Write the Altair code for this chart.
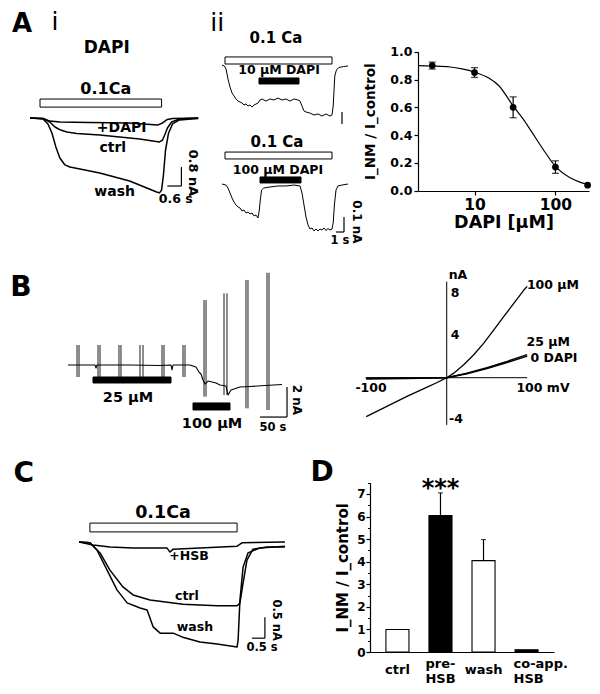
import altair as alt
import pandas as pd

FONT = "DejaVu Sans"

# ---------------- Panel A i : traces, time (s) / current (nA) ----------------
ai_dapi_t = [-0.06, 0.50, 0.79, 1.22, 2.50, 4.21, 5.41, 5.62, 5.83, 6.05, 7.15]
ai_dapi_i = [0.0, -0.02, -0.13, -0.17, -0.19, -0.21, -0.30, -0.21, -0.06, -0.02, 0.0]
ai_ctrl_t = [-0.06, 0.50, 0.79, 1.01, 1.26, 1.52, 1.95, 2.93, 3.78, 4.64, 5.49, 5.62, 5.75, 5.83, 6.01, 6.35, 7.15]
ai_ctrl_i = [0.0, -0.02, -0.17, -0.38, -0.51, -0.59, -0.65, -0.72, -0.80, -0.89, -1.01, -0.93, -0.63, -0.42, -0.17, -0.04, 0.0]
ai_wash_t = [-0.06, 0.50, 0.71, 0.88, 1.05, 1.22, 1.44, 1.65, 2.08, 2.93, 4.21, 5.37, 5.49, 5.58, 5.66, 5.75, 5.88, 6.05, 6.35, 7.15]
ai_wash_i = [0.0, -0.04, -0.25, -0.63, -1.22, -1.69, -1.98, -2.07, -2.15, -2.32, -2.66, -3.12, -3.16, -3.04, -2.41, -1.35, -0.63, -0.25, -0.08, -0.02]
ai_ca_on = [0.37, 5.58]

# ---------------- Panel A ii : two traces (s / nA, stacked) ----------------
aii_top_t = [0, 0.3, 0.5, 0.75, 1.0, 1.25, 1.5, 1.75, 2.0, 2.25, 2.5, 2.75, 3.0, 3.25, 3.5, 3.75, 4.0, 4.25,
             4.5, 4.75, 5.0, 5.5, 6.0, 6.5, 7.0, 7.5, 8.0, 8.5, 9.0, 9.5, 9.75, 10.0, 10.25, 10.5, 11.0, 11.5,
             12.0, 12.5, 13.0, 13.5, 13.75, 13.9, 14.1, 14.3, 14.6, 15.2, 15.75]
aii_top_i = [0.793, 0.787, 0.767, 0.70, 0.647, 0.607, 0.587, 0.567, 0.553, 0.547, 0.54, 0.527, 0.533, 0.52,
             0.527, 0.513, 0.527, 0.533, 0.54, 0.56, 0.567, 0.553, 0.567, 0.56, 0.573, 0.56, 0.567, 0.553,
             0.567, 0.56, 0.553, 0.52, 0.487, 0.48, 0.473, 0.46, 0.467, 0.453, 0.467, 0.453, 0.46, 0.52,
             0.72, 0.76, 0.777, 0.783, 0.787]
aii_bot_t = [0, 0.5, 0.75, 1.0, 1.25, 1.5, 1.75, 2.0, 2.25, 2.5, 2.75, 3.0, 3.25, 3.5, 3.75, 4.0, 4.25, 4.5,
             4.65, 4.8, 4.95, 5.2, 6.0, 7.0, 8.0, 9.0, 9.75, 10.0, 10.25, 10.5, 10.75, 11.0, 11.25, 11.5,
             11.75, 12.0, 12.25, 12.5, 12.75, 13.0, 13.25, 13.5, 13.75, 13.9, 14.05, 14.25, 14.5, 15.0, 15.75]
aii_bot_i = [0.0, -0.007, -0.027, -0.06, -0.093, -0.12, -0.14, -0.153, -0.16, -0.18, -0.173, -0.193, -0.187,
             -0.2, -0.193, -0.213, -0.207, -0.227, -0.18, -0.1, -0.04, -0.027, -0.02, -0.013, -0.013, -0.007,
             -0.013, -0.06, -0.14, -0.22, -0.273, -0.3, -0.293, -0.313, -0.3, -0.313, -0.3, -0.307, -0.293,
             -0.31, -0.297, -0.307, -0.3, -0.26, -0.14, -0.04, -0.013, -0.007, 0.0]
aii_ca_on = [0.375, 13.75]
aii_dapi10_on = [4.625, 9.625]
aii_dapi100_on = [4.75, 9.875]

# ---------------- Panel A dose-response ----------------
dr_conc = [3, 10, 30, 100, 250]
dr_ratio = [0.90, 0.85, 0.60, 0.17, 0.04]
dr_sem = [0.025, 0.035, 0.075, 0.045, 0.0]
fit_conc = [2, 3, 5, 7, 10, 15, 20, 30, 40, 50, 70, 100, 150, 200, 260]
fit_ratio = [0.90, 0.897, 0.89, 0.876, 0.853, 0.81, 0.755, 0.61, 0.515, 0.43, 0.30, 0.175, 0.095, 0.062, 0.042]

# ---------------- Panel B trace (s / nA) ----------------
b_t = [0, 22.2, 50, 51.9, 53.7, 114.8, 170.4, 190.7, 192.6, 194.4, 225.9, 237, 242.6, 246.3, 250, 253.7,
       259.3, 266.7, 274.1, 281.5, 292.6, 296.3, 301.9, 318.5, 337, 364.8, 396.3]
b_i = [0, 0, 0, -0.2, 0, 0, -0.03, 0, -0.33, 0, 0, -0.13, -0.47, -0.6, -1.0, -1.27, -1.07, -1.13, -1.2,
       -1.33, -1.4, -2.0, -1.67, -1.47, -1.43, -1.37, -1.3]
b_spike_t = [16.7, 20.4, 55.6, 59.3, 94.4, 98.1, 133.3, 138.9, 174.1, 177.8, 213.0, 216.7,
             251.9, 255.6, 288.9, 294.4, 329.6, 333.3, 368.5, 372.2]
b_spike_hi = [1.33] * 12 + [4.33, 4.33, 4.78, 4.78, 5.67, 5.67, 6.15, 6.15]
b_spike_lo = [-0.8] * 12 + [-2.11, -2.11, -2.0, -2.0, -2.89, -2.89, -3.0, -3.0]
b_dapi25_on = [46.3, 190.7]
b_dapi100_on = [231.5, 300.0]

# ---------------- Panel B I-V (mV / nA) ----------------
iv100_v = [-100, -75, -50, -25, -12.5, 0, 8.3, 20.8, 33.3, 45.8, 58.3, 70.8, 83.3, 95.8, 100]
iv100_i = [-3.71, -2.76, -1.81, -0.92, -0.48, 0, 0.41, 1.21, 2.16, 3.27, 4.54, 5.81, 7.08, 8.35, 8.7]
iv25_v = [-100, -50, 0, 25, 50, 75, 100]
iv25_i = [-0.12, -0.08, 0, 0.42, 0.95, 1.55, 2.2]
iv0_v = [-100, -50, 0, 25, 50, 75, 100]
iv0_i = [-0.05, -0.03, 0, 0.38, 0.88, 1.45, 2.05]

# ---------------- Panel C traces (s / nA) ----------------
c_hsb_t = [0, 0.54, 1.19, 2.08, 3.38, 3.5, 3.62, 4.65, 6.08, 6.27, 7.92]
c_hsb_i = [0, -0.07, -0.12, -0.14, -0.14, -0.24, -0.17, -0.14, -0.1, -0.02, 0]
c_ctrl_t = [0, 0.42, 0.81, 1.19, 1.69, 2.08, 2.73, 4.0, 5.31, 6.08, 6.19, 6.31, 6.46, 6.69, 7.23, 7.92]
c_ctrl_i = [0, -0.02, -0.26, -0.67, -1.07, -1.26, -1.38, -1.48, -1.52, -1.52, -1.45, -0.98, -0.43, -0.17, -0.12, -0.12]
c_wash_t = [0, 0.42, 0.69, 1.08, 1.46, 1.85, 2.35, 2.62, 2.85, 3.12, 3.62, 3.96, 4.65, 5.31, 6.08, 6.12,
            6.19, 6.31, 6.5, 6.96, 7.92]
c_wash_i = [0, -0.02, -0.19, -0.67, -1.14, -1.45, -1.57, -1.62, -2.02, -2.17, -2.17, -2.26, -2.38, -2.43,
            -2.5, -2.33, -1.38, -0.6, -0.26, -0.14, -0.1]
c_ca_on = [0.42, 6.08]

# ---------------- Panel D bars ----------------
d_cat = ["ctrl", "pre-HSB", "wash", "co-app. HSB"]
d_val = [1.0, 6.05, 4.05, 0.1]
d_err = [0.0, 1.0, 0.93, 0.0]


def make_panel(xd, yd):
    def X(f):
        return alt.X(f"{f}:Q", scale=alt.Scale(domain=xd, nice=False, zero=False), axis=None)

    def Y(f):
        return alt.Y(f"{f}:Q", scale=alt.Scale(domain=yd, nice=False, zero=False), axis=None)

    def line(xs, ys, w=1.3):
        df = pd.DataFrame({"x": xs, "y": ys, "k": list(range(len(xs)))})
        return alt.Chart(df).mark_line(color="black", strokeWidth=w, strokeJoin="round").encode(
            x=X("x"), y=Y("y"), order="k:Q")

    def rules(x1, x2, y1, y2, w=1.2):
        df = pd.DataFrame({"x": x1, "x2": x2, "y": y1, "y2": y2})
        return alt.Chart(df).mark_rule(color="black", strokeWidth=w).encode(
            x=X("x"), x2="x2:Q", y=Y("y"), y2="y2:Q")

    def box(x1, x2, y1, y2, fill):
        df = pd.DataFrame({"x": [x1], "x2": [x2], "y": [y1], "y2": [y2]})
        return alt.Chart(df).mark_rect(fill=fill, stroke="black", strokeWidth=1).encode(
            x=X("x"), x2="x2:Q", y=Y("y"), y2="y2:Q")

    def text(s, x, y, size, angle=0, weight="bold", baseline="middle"):
        df = pd.DataFrame({"x": [x], "y": [y], "s": [s]})
        return alt.Chart(df).mark_text(font=FONT, fontWeight=weight, fontSize=size, angle=angle,
                                       baseline=baseline, color="black").encode(
            x=X("x"), y=Y("y"), text="s:N")

    return line, rules, box, text


# ---- A i ----
line, rules, box, text = make_panel([-1.345, 7.227], [-5.907, 4.979])
panel_ai = alt.layer(
    box(ai_ca_on[0], ai_ca_on[1], 0.46, 0.80, "white"),
    line(ai_dapi_t, ai_dapi_i, 1.5), line(ai_ctrl_t, ai_ctrl_i, 1.5), line(ai_wash_t, ai_wash_i, 1.5),
    rules([6.43, 5.83], [6.43, 6.43], [-2.07, -2.87], [-2.87, -2.87]),
    text("A", -0.40, 3.97, 26), text("i", 1.01, 4.03, 25, weight="normal"),
    text("DAPI", 3.23, 2.95, 17), text("0.1Ca", 3.19, 1.22, 16),
    text("+DAPI", 3.87, -0.42, 14), text("ctrl", 3.49, -1.27, 14), text("wash", 3.57, -3.12, 14),
    text("0.8 nA", 6.91, -2.32, 13, angle=90), text("0.6 s", 6.19, -3.42, 12.5),
).properties(width=200, height=258)

# ---- A ii ----
line, rules, box, text = make_panel([-2.75, 24.5], [-0.4933, 1.2267])
panel_aii = alt.layer(
    box(aii_ca_on[0], aii_ca_on[1], 0.80, 0.847, "white"),
    box(aii_dapi10_on[0], aii_dapi10_on[1], 0.667, 0.707, "black"),
    box(aii_ca_on[0], aii_ca_on[1], 0.167, 0.213, "white"),
    box(aii_dapi100_on[0], aii_dapi100_on[1], 0.007, 0.047, "black"),
    line(aii_top_t, aii_top_i, 1.0), line(aii_bot_t, aii_bot_i, 1.0),
    rules([15.0, 15.25, 14.25], [15.0, 15.25, 15.25], [0.40, -0.22, -0.32], [0.48, -0.32, -0.32]),
    text("ii", -0.6, 1.075, 25, weight="normal"),
    text("0.1 Ca", 6.75, 0.973, 15), text("10 µM DAPI", 7.125, 0.76, 12.5),
    text("0.1 Ca", 6.875, 0.28, 15), text("100 µM DAPI", 7.0, 0.093, 12.5),
    text("0.1 nA", 16.875, -0.253, 12, angle=90), text("1 s", 14.75, -0.38, 11.5),
).properties(width=218, height=258)

# ---- A dose-response ----
dr_xscale = alt.Scale(type="log", domain=[2, 260], nice=False)
dr_yscale = alt.Scale(domain=[0, 1], range=[190.7, 51.7], nice=False, zero=False)
dr_xaxis = alt.Axis(values=[10, 100], format="d", title="DAPI [µM]", labelFontSize=15.5, titleFontSize=17.5,
                    tickSize=4, labelPadding=2, titlePadding=1, domainWidth=1.2, tickWidth=1.2)
dr_yaxis = alt.Axis(values=[0, 0.2, 0.4, 0.6, 0.8, 1.0], format=".1f", title="I_NM / I_control",
                    labelFontSize=12.5, titleFontSize=13.5, tickSize=4, labelPadding=2, titlePadding=12,
                    domainWidth=1.2, tickWidth=1.2)


def drx(f):
    return alt.X(f"{f}:Q", scale=dr_xscale, axis=dr_xaxis)


def dry(f):
    return alt.Y(f"{f}:Q", scale=dr_yscale, axis=dr_yaxis)


dr_df = pd.DataFrame({"c": dr_conc, "v": dr_ratio, "e": dr_sem})
dr_df["lo"] = dr_df["v"] - dr_df["e"]
dr_df["hi"] = dr_df["v"] + dr_df["e"]
dr_err = dr_df[dr_df["e"] > 0]
fit_df = pd.DataFrame({"c": fit_conc, "v": fit_ratio})
panel_dr = alt.layer(
    alt.Chart(fit_df).mark_line(color="black", strokeWidth=1.2, interpolate="monotone").encode(x=drx("c"), y=dry("v")),
    alt.Chart(dr_err).mark_rule(color="black", strokeWidth=1.2).encode(x=drx("c"), y=dry("lo"), y2="hi:Q"),
    alt.Chart(dr_err).mark_tick(color="black", orient="horizontal", size=7, thickness=1.3).encode(x=drx("c"), y=dry("lo")),
    alt.Chart(dr_err).mark_tick(color="black", orient="horizontal", size=7, thickness=1.3).encode(x=drx("c"), y=dry("hi")),
    alt.Chart(dr_df).mark_circle(color="black", size=45, opacity=1).encode(x=drx("c"), y=dry("v")),
).properties(width=171, height=191)

# ---- B trace ----
line, rules, box, text = make_panel([-125.93, 485.19], [-6.2, 7.1333])
panel_b = alt.layer(
    line(b_t, b_i, 1.1),
    rules(b_spike_t, b_spike_t, b_spike_lo, b_spike_hi, 0.9),
    box(b_dapi25_on[0], b_dapi25_on[1], -1.2, -0.8, "black"),
    box(b_dapi100_on[0], b_dapi100_on[1], -3.0, -2.53, "black"),
    rules([355.6, 405.6], [405.6, 405.6], [-3.47, -1.47], [-3.47, -3.47]),
    text("B", -87.0, 5.13, 28),
    text("25 µM", 111.1, -2.2, 14.5), text("100 µM", 266.7, -3.93, 14.5),
    text("2 nA", 424.1, -2.33, 12, angle=90), text("50 s", 379.6, -4.2, 11.5),
).properties(width=330, height=200)

# ---- B I-V ----
line, rules, box, text = make_panel([-144.97, 178.0], [-7.648, 11.4])
panel_iv = alt.layer(
    rules([-100.8, 0], [100, 0], [0, -4.5], [0, 9.14], 1.0),
    line(iv0_v, iv0_i, 1.4), line(iv25_v, iv25_i, 1.4), line(iv100_v, iv100_i, 1.3),
    text("nA", 14.0, 9.78, 12.5), text("8", 10.3, 8.04, 12.5), text("4", 10.3, 4.04, 12.5),
    text("-4", 11.6, -3.93, 12.5), text("-100", -94, -0.98, 12.5), text("100 mV", 119.6, -0.98, 12.5),
    text("100 µM", 132, 8.8, 12.5), text("25 µM", 126, 3.4, 12.5), text("0 DAPI", 133.3, 1.88, 12.5),
).properties(width=260, height=200)

# ---- C traces ----
line, rules, box, text = make_panel([-3.0385, 11.1923], [-3.381, 2.0])
panel_c = alt.layer(
    box(c_ca_on[0], c_ca_on[1], 0.24, 0.45, "white"),
    line(c_hsb_t, c_hsb_i, 1.5), line(c_ctrl_t, c_ctrl_i, 1.5), line(c_wash_t, c_wash_i, 1.5),
    rules([7.15, 6.65], [7.15, 7.15], [-1.79, -2.29], [-2.29, -2.29]),
    text("C", -2.12, 1.62, 28), text("D", 9.35, 1.64, 28),
    text("0.1Ca", 3.23, 0.69, 17.5),
    text("+HSB", 4.23, -0.33, 12.5), text("ctrl", 4.15, -1.29, 12.5), text("wash", 4.46, -2.02, 12.5),
    text("0.5 nA", 7.58, -1.86, 11.5, angle=90), text("0.5 s", 7.04, -2.52, 11.5),
).properties(width=370, height=226)

# ---- D bars ----
d_df = pd.DataFrame({"cat": d_cat, "val": d_val, "err": d_err})
d_df["hi"] = d_df["val"] + d_df["err"]
d_eb = d_df[d_df["err"] > 0]
d_yscale = alt.Scale(domain=[0, 7.5], range=[194, 24.7], nice=False, zero=False)
is_coapp = "datum.value === 'co-app. HSB'"
is_two_line = "datum.value === 'co-app. HSB' || datum.value === 'pre-HSB'"
d_xenc = alt.X("cat:N", sort=d_cat, scale=alt.Scale(paddingInner=0.465, paddingOuter=0.37),
               axis=alt.Axis(title=None, labelAngle=0, ticks=False, tickSize=0, labelFontSize=13,
                             labelLineHeight=15, labelBaseline="middle", domainWidth=1.2,
                             labelPadding={"condition": {"test": is_two_line, "value": 11}, "value": 17},
                             labelAlign={"condition": {"test": is_coapp, "value": "left"}, "value": "center"},
                             labelOffset={"condition": {"test": is_coapp, "value": -13}, "value": 0},
                             labelExpr="datum.label == 'pre-HSB' ? ['pre-', 'HSB'] : datum.label == 'co-app. HSB' ? ['co-app.', 'HSB'] : datum.label"))
d_yaxis = alt.Axis(values=[0, 1, 2, 3, 4, 5, 6, 7], format="d", title="I_NM / I_control", orient="left",
                   labelFontSize=12, titleFontSize=15, tickSize=4, labelPadding=1, titlePadding=6,
                   domainWidth=1.2, tickWidth=1.2)
d_minor = alt.Axis(values=[0.5, 1.5, 2.5, 3.5, 4.5, 5.5, 6.5, 7.5], orient="left", labels=False, domain=False,
                   title=None, tickSize=2.5, tickWidth=1.0)


def dy(f, ax=d_yaxis):
    return alt.Y(f"{f}:Q", scale=d_yscale, axis=ax)


is_black = alt.FieldOneOfPredicate(field="cat", oneOf=["pre-HSB", "co-app. HSB"])
main_d = alt.layer(
    alt.Chart(d_df).mark_bar(stroke="black", strokeWidth=1.1).encode(
        x=d_xenc, y=dy("val"), fill=alt.condition(is_black, alt.value("black"), alt.value("white"))),
    alt.Chart(d_eb).mark_rule(color="black", strokeWidth=1.2).encode(x=d_xenc, y=dy("val"), y2="hi:Q"),
    alt.Chart(d_eb).mark_tick(color="black", orient="horizontal", size=5, thickness=1.2).encode(x=d_xenc, y=dy("hi")),
    alt.Chart(pd.DataFrame({"cat": ["pre-HSB"], "y": [6.9], "s": ["***"]})).mark_text(
        font=FONT, fontWeight="bold", fontSize=24, baseline="alphabetic", color="black").encode(
        x=d_xenc, y=dy("y"), text="s:N"),
)
minor_d = alt.Chart(d_eb).mark_rule(opacity=0).encode(x=d_xenc, y=dy("val", d_minor))
panel_d = alt.layer(main_d, minor_d).resolve_axis(y="independent").properties(width=184, height=194)

row_a = alt.hconcat(panel_ai, panel_aii, panel_dr, spacing=0, bounds="flush")
row_b = alt.hconcat(panel_b, panel_iv, spacing=0, bounds="flush")
row_c = alt.hconcat(panel_c, panel_d, spacing=0, bounds="flush")

chart = alt.vconcat(row_a, row_b, row_c, spacing=0).properties(
    padding={"left": -8, "top": -8, "right": 0, "bottom": 0}
).configure_view(stroke=None).configure_axis(
    labelFont=FONT, titleFont=FONT, labelFontWeight="bold", titleFontWeight="bold",
    labelColor="black", titleColor="black", domainColor="black", tickColor="black", grid=False
)

chart.save("out.html", embed_options={"renderer": "svg", "actions": False})
